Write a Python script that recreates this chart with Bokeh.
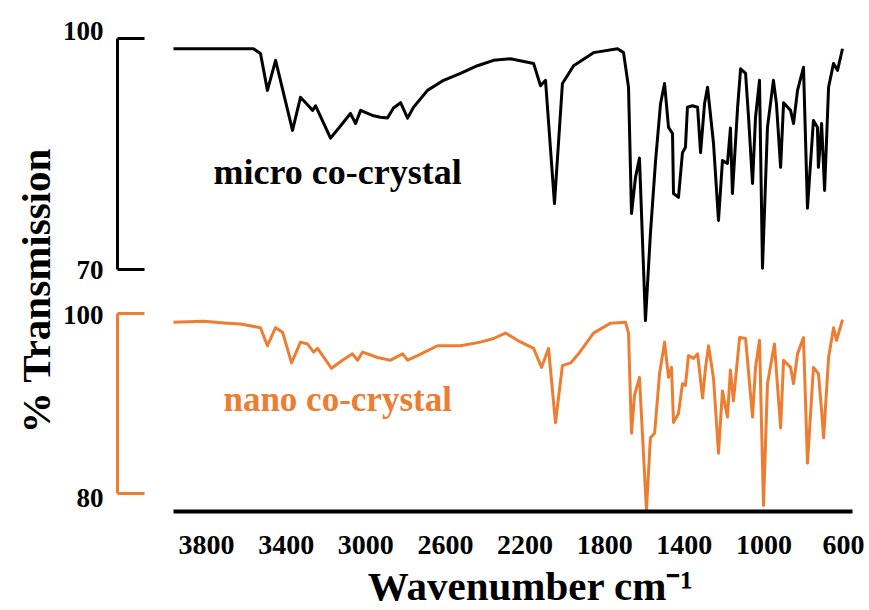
import math
from bokeh.plotting import figure
from bokeh.models import Range1d, LinearAxis, FixedTicker, Grid, Label
from bokeh.core.properties import value
from bokeh.embed import file_html
from bokeh.resources import INLINE

# ---- data ----
wavenumber_micro = [3966, 3564, 3529, 3494, 3453, 3368, 3328, 3288, 3267, 3252, 3177, 3117, 3077, 3051,
                    3026, 2961, 2926, 2891, 2861, 2825, 2790, 2760, 2690, 2609, 2524, 2439, 2358, 2273,
                    2157, 2122, 2097, 2052, 2012, 1956, 1856, 1735, 1705, 1680, 1665, 1645, 1625, 1595,
                    1570, 1544, 1519, 1499, 1479, 1459, 1454, 1429, 1409, 1394, 1384, 1359, 1333, 1318,
                    1298, 1283, 1253, 1228, 1208, 1183, 1168, 1158, 1132, 1117, 1092, 1077, 1057, 1042,
                    1022, 1007, 982, 952, 937, 916, 901, 866, 851, 831, 801, 781, 751, 731, 726, 710,
                    695, 675, 650, 630, 605]
transmission_micro = [98.7, 98.7, 98.1, 93.3, 97.2, 88.1, 92.4, 91.3, 90.7, 91.3, 87.1, 89.0, 90.3, 89.0,
                      90.7, 90.0, 89.8, 89.7, 91.0, 91.7, 89.7, 91.1, 93.3, 94.6, 95.5, 96.5, 97.2, 97.4,
                      96.8, 93.9, 94.6, 78.6, 94.2, 96.5, 98.2, 98.7, 98.2, 93.7, 77.3, 82.0, 84.5, 63.4,
                      74.7, 84.2, 91.6, 94.2, 88.5, 87.7, 79.9, 79.4, 85.2, 85.9, 91.1, 91.3, 91.1, 85.2,
                      91.6, 93.7, 86.4, 76.4, 84.2, 83.8, 88.4, 79.9, 91.1, 96.1, 95.5, 89.8, 81.2, 89.8,
                      94.6, 70.2, 88.5, 94.6, 91.6, 83.3, 91.7, 90.7, 89.0, 93.3, 96.3, 78.0, 89.4, 88.5,
                      83.3, 89.0, 80.3, 93.7, 96.8, 95.9, 98.7]

wavenumber_nano = [3966, 3815, 3695, 3629, 3529, 3494, 3453, 3418, 3373, 3328, 3293, 3262, 3242, 3172,
                   3117, 3067, 3041, 3016, 2941, 2876, 2815, 2790, 2740, 2640, 2524, 2424, 2358, 2298,
                   2238, 2157, 2117, 2082, 2047, 2012, 1971, 1931, 1856, 1770, 1695, 1680, 1665, 1650,
                   1625, 1590, 1570, 1549, 1524, 1499, 1479, 1464, 1454, 1429, 1409, 1394, 1379, 1353,
                   1333, 1308, 1293, 1278, 1253, 1228, 1208, 1183, 1168, 1153, 1122, 1092, 1072, 1057,
                   1042, 1022, 1002, 982, 947, 916, 901, 866, 851, 831, 801, 781, 751, 726, 710, 700,
                   675, 650, 635, 605]
transmission_nano = [99.0, 99.1, 98.9, 98.8, 98.4, 96.4, 98.4, 97.9, 94.5, 96.8, 96.6, 95.7, 96.1, 93.9,
                     94.8, 95.5, 94.8, 95.7, 95.1, 94.8, 95.5, 94.8, 95.3, 96.4, 96.4, 96.8, 97.2, 97.8,
                     97.0, 96.1, 94.0, 96.1, 87.9, 94.2, 94.5, 95.5, 97.8, 98.9, 99.0, 97.8, 86.7, 90.9,
                     92.9, 78.2, 86.2, 86.7, 93.3, 96.8, 92.9, 94.0, 87.9, 88.9, 92.2, 92.0, 95.3, 95.0,
                     95.5, 90.6, 94.0, 96.4, 92.8, 84.5, 91.4, 88.5, 93.7, 90.3, 97.3, 97.2, 92.2, 88.5,
                     94.0, 97.0, 78.7, 92.2, 96.6, 87.3, 94.8, 94.0, 92.2, 95.5, 97.3, 83.4, 94.0, 93.3,
                     89.2, 86.2, 95.1, 98.4, 97.0, 99.3]

x_ticks = [3800, 3400, 3000, 2600, 2200, 1800, 1400, 1000, 600]
x_tick_labels = ["3800", "3400", "3000", "2600", "2200", "1800", "1400", "1000", "600"]
micro_ticks = [70, 100]
micro_tick_labels = ["70", "100"]
nano_ticks = [80, 100]
nano_tick_labels = ["80", "100"]
series_names = ["micro co-crystal", "nano co-crystal"]
x_title = "Wavenumber cm\u207b\u00b9"
y_title = "% Transmission"

# ---- style / layout ----
FONT = "Liberation Serif"
ORANGE = "#ED7D31"
BLACK = "#000000"
W, H = 869, 610
X_RANGE = (4835, 469.4)          # frame = whole canvas (cm-1 at left/right edge)
MICRO_RANGE = (25.75, 104.97)    # %T of the upper trace at bottom/top edge
NANO_RANGE = (67.08, 134.63)     # %T of the lower trace at bottom/top edge
BRACKET_X = 4247                 # where the two bracket scales stand
BRACKET_LABEL_X = 4317
MICRO_LABEL_DY = [0, -8]         # px nudges of the bracket labels
NANO_LABEL_DY = [4, 2]
AXIS_Y = 38.61                   # height of the bottom axis line (upper-trace units)
X_LABEL_Y = 34.2
X_TITLE_POS = (2172, 28.9)
Y_TITLE_POS = (4659, 67.3)
MICRO_NAME_POS = (3765, 82.64)
NANO_NAME_POS = (3715, 90.44)
X_BOUNDS = (555, 3966)

p = figure(width=W, height=H, output_backend="svg", toolbar_location=None,
           x_range=Range1d(*X_RANGE), y_range=Range1d(*MICRO_RANGE),
           x_axis_location=None, y_axis_location=None,
           min_border=0, min_border_left=0, min_border_right=0,
           min_border_top=0, min_border_bottom=0)
p.extra_y_ranges = {"nano": Range1d(*NANO_RANGE)}
p.outline_line_color = None
p.background_fill_color = "white"
p.border_fill_color = "white"
for r in list(p.center):
    if isinstance(r, Grid):
        r.visible = False


def bracket_axis(ticks, color, range_name):
    kw = {} if range_name is None else {"y_range_name": range_name}
    ax = LinearAxis(ticker=FixedTicker(ticks=ticks), bounds=(min(ticks), max(ticks)),
                    fixed_location=BRACKET_X, **kw)
    ax.axis_line_color = color
    ax.axis_line_width = 3
    ax.major_tick_line_color = color
    ax.major_tick_line_width = 3
    ax.major_tick_in = 27
    ax.major_tick_out = 0
    ax.minor_tick_line_color = None
    ax.major_label_text_color = None
    return ax


p.add_layout(bracket_axis(micro_ticks, BLACK, None), "left")
p.add_layout(bracket_axis(nano_ticks, ORANGE, "nano"), "left")

xaxis = LinearAxis(ticker=FixedTicker(ticks=x_ticks), bounds=X_BOUNDS, fixed_location=AXIS_Y)
xaxis.axis_line_color = BLACK
xaxis.axis_line_width = 4
xaxis.major_tick_line_color = None
xaxis.minor_tick_line_color = None
xaxis.major_label_text_color = None
p.add_layout(xaxis, "below")

# tick labels
p.text(x=x_ticks, y=[X_LABEL_Y] * len(x_ticks), text=x_tick_labels,
       text_font=value(FONT), text_font_style="bold", text_font_size="28px",
       text_color=BLACK, text_align="center", text_baseline="middle")
p.text(x=[BRACKET_LABEL_X] * len(micro_ticks), y=micro_ticks, text=micro_tick_labels,
       y_offset=MICRO_LABEL_DY,
       text_font=value(FONT), text_font_style="bold", text_font_size="27px",
       text_color=BLACK, text_align="right", text_baseline="middle")
p.text(x=[BRACKET_LABEL_X] * len(nano_ticks), y=nano_ticks, text=nano_tick_labels,
       y_offset=NANO_LABEL_DY, y_range_name="nano",
       text_font=value(FONT), text_font_style="bold", text_font_size="27px",
       text_color=BLACK, text_align="right", text_baseline="middle")

# spectra
p.line(wavenumber_micro, transmission_micro, line_color=BLACK, line_width=3, line_join="round")
p.line(wavenumber_nano, transmission_nano, line_color=ORANGE, line_width=3, line_join="round",
       y_range_name="nano")

# titles and series names
p.add_layout(Label(x=X_TITLE_POS[0], y=X_TITLE_POS[1], text=x_title, text_font=FONT,
                   text_font_style="bold", text_font_size="41px", text_color=BLACK,
                   text_align="center", text_baseline="middle"))
p.add_layout(Label(x=Y_TITLE_POS[0], y=Y_TITLE_POS[1], text=y_title, text_font=FONT,
                   text_font_style="bold", text_font_size="41px", text_color=BLACK,
                   text_align="center", text_baseline="middle", angle=math.pi / 2))
p.add_layout(Label(x=MICRO_NAME_POS[0], y=MICRO_NAME_POS[1], text=series_names[0], text_font=FONT,
                   text_font_style="bold", text_font_size="36px", text_color=BLACK,
                   text_baseline="alphabetic"))
p.add_layout(Label(x=NANO_NAME_POS[0], y=NANO_NAME_POS[1], y_range_name="nano", text=series_names[1],
                   text_font=FONT, text_font_style="bold", text_font_size="35px", text_color=ORANGE,
                   text_baseline="alphabetic"))

open("out.html", "w").write(file_html(p, INLINE))
